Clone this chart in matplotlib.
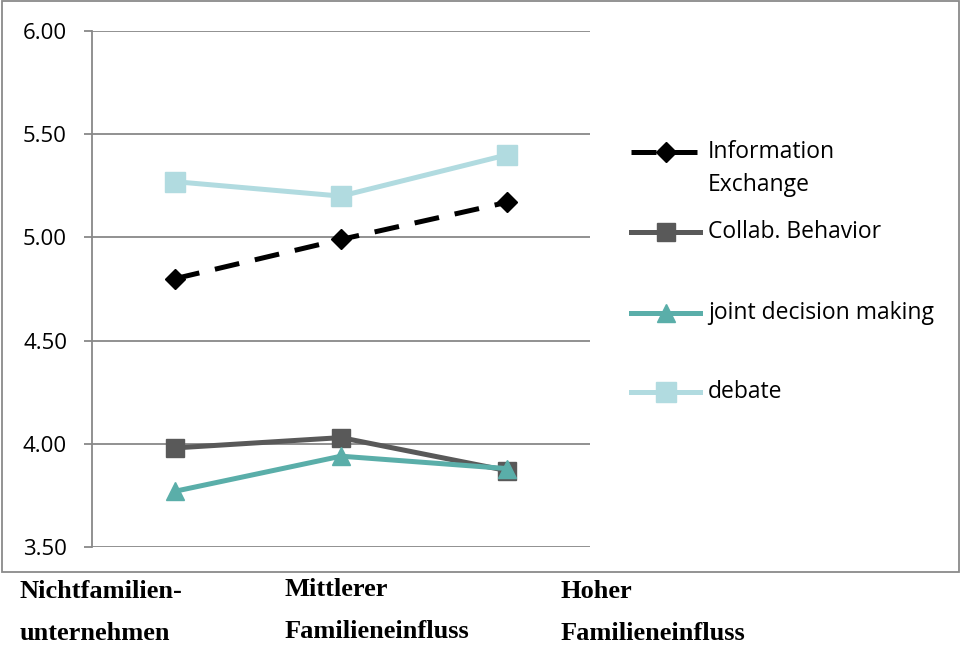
import matplotlib
matplotlib.use("Agg")
import matplotlib.pyplot as plt
from matplotlib.lines import Line2D
from matplotlib.patches import Rectangle

categories = ["Nichtfamilien-\nunternehmen", "Mittlerer\nFamilieneinfluss", "Hoher\nFamilieneinfluss"]
info_exchange = [4.80, 4.99, 5.17]
collab_behavior = [3.98, 4.03, 3.87]
joint_decision = [3.77, 3.94, 3.88]
debate = [5.27, 5.20, 5.40]
series_names = ["Information\nExchange", "Collab. Behavior", "joint decision making", "debate"]
yticks = [3.50, 4.00, 4.50, 5.00, 5.50, 6.00]

W, H = 962, 648
SANS = "Open Sans"
fig = plt.figure(figsize=(W / 100, H / 100), dpi=100)
fig.patch.set_facecolor("white")

# outer frame of the chart area
fig.add_artist(Rectangle((2 / W, 1 - 572 / H), 957 / W, 571 / H, transform=fig.transFigure,
                         fill=False, edgecolor="#8a8a8a", linewidth=1.3))

ax = fig.add_axes([92 / W, 1 - 547 / H, 498 / W, 516 / H])
ax.set_ylim(3.5, 6.0)
ax.set_xlim(-0.5, 2.5)
grid_color = "#888888"
ax.set_yticks(yticks)
ax.set_yticklabels([f"{v:.2f}" for v in yticks], fontsize=16, family=SANS)
ax.tick_params(axis="y", length=6, width=1.3, color=grid_color, pad=12)
ax.tick_params(axis="x", length=0, labelbottom=False)
ax.grid(axis="y", color=grid_color, linewidth=1.3)
ax.set_axisbelow(True)
for s in ["top", "right", "bottom"]:
    ax.spines[s].set_visible(False)
ax.spines["left"].set_color(grid_color)
ax.spines["left"].set_linewidth(1.3)

x = range(len(categories))
styles = [
    dict(color="black", marker="D", markersize=10, linestyle=(0, (5, 3.2)), linewidth=3.6),
    dict(color="#595959", marker="s", markersize=13, linestyle="-", linewidth=3.6),
    dict(color="#5aaea9", marker="^", markersize=13, linestyle="-", linewidth=3.6),
    dict(color="#b1dbe0", marker="s", markersize=14, linestyle="-", linewidth=3.6),
]
values = [info_exchange, collab_behavior, joint_decision, debate]
for i in [3, 0, 1, 2]:
    ax.plot(x, values[i], clip_on=False, zorder=3 + i, **styles[i])

# legend keys and labels
legend_y = [152, 232, 313, 392]
for i, (name, yy) in enumerate(zip(series_names, legend_y)):
    yf = 1 - yy / H
    st = dict(styles[i])
    ms = st.pop("markersize")
    mk = st.pop("marker")
    fig.add_artist(Line2D([631 / W, 700 / W], [yf, yf], transform=fig.transFigure, **st))
    fig.add_artist(Line2D([666 / W], [yf], transform=fig.transFigure, marker=mk, markersize=ms,
                          color=st["color"], linestyle="none"))
    for k, line in enumerate(name.split("\n")):
        fig.text(708 / W, 1 - (yy + 33 * k) / H, line, fontsize=16.5, family=SANS,
                 va="center", ha="left")

# category labels below the frame
cat_x = [20, 285, 561]
cat_y = [[592, 633], [590, 631], [592, 633]]
for lbl, cx, cy in zip(categories, cat_x, cat_y):
    for line, yy in zip(lbl.split("\n"), cy):
        fig.text(cx / W, 1 - yy / H, line, fontsize=19, family="Liberation Serif",
                 fontweight="bold", va="center", ha="left")

fig.savefig("out.png", dpi=100)
